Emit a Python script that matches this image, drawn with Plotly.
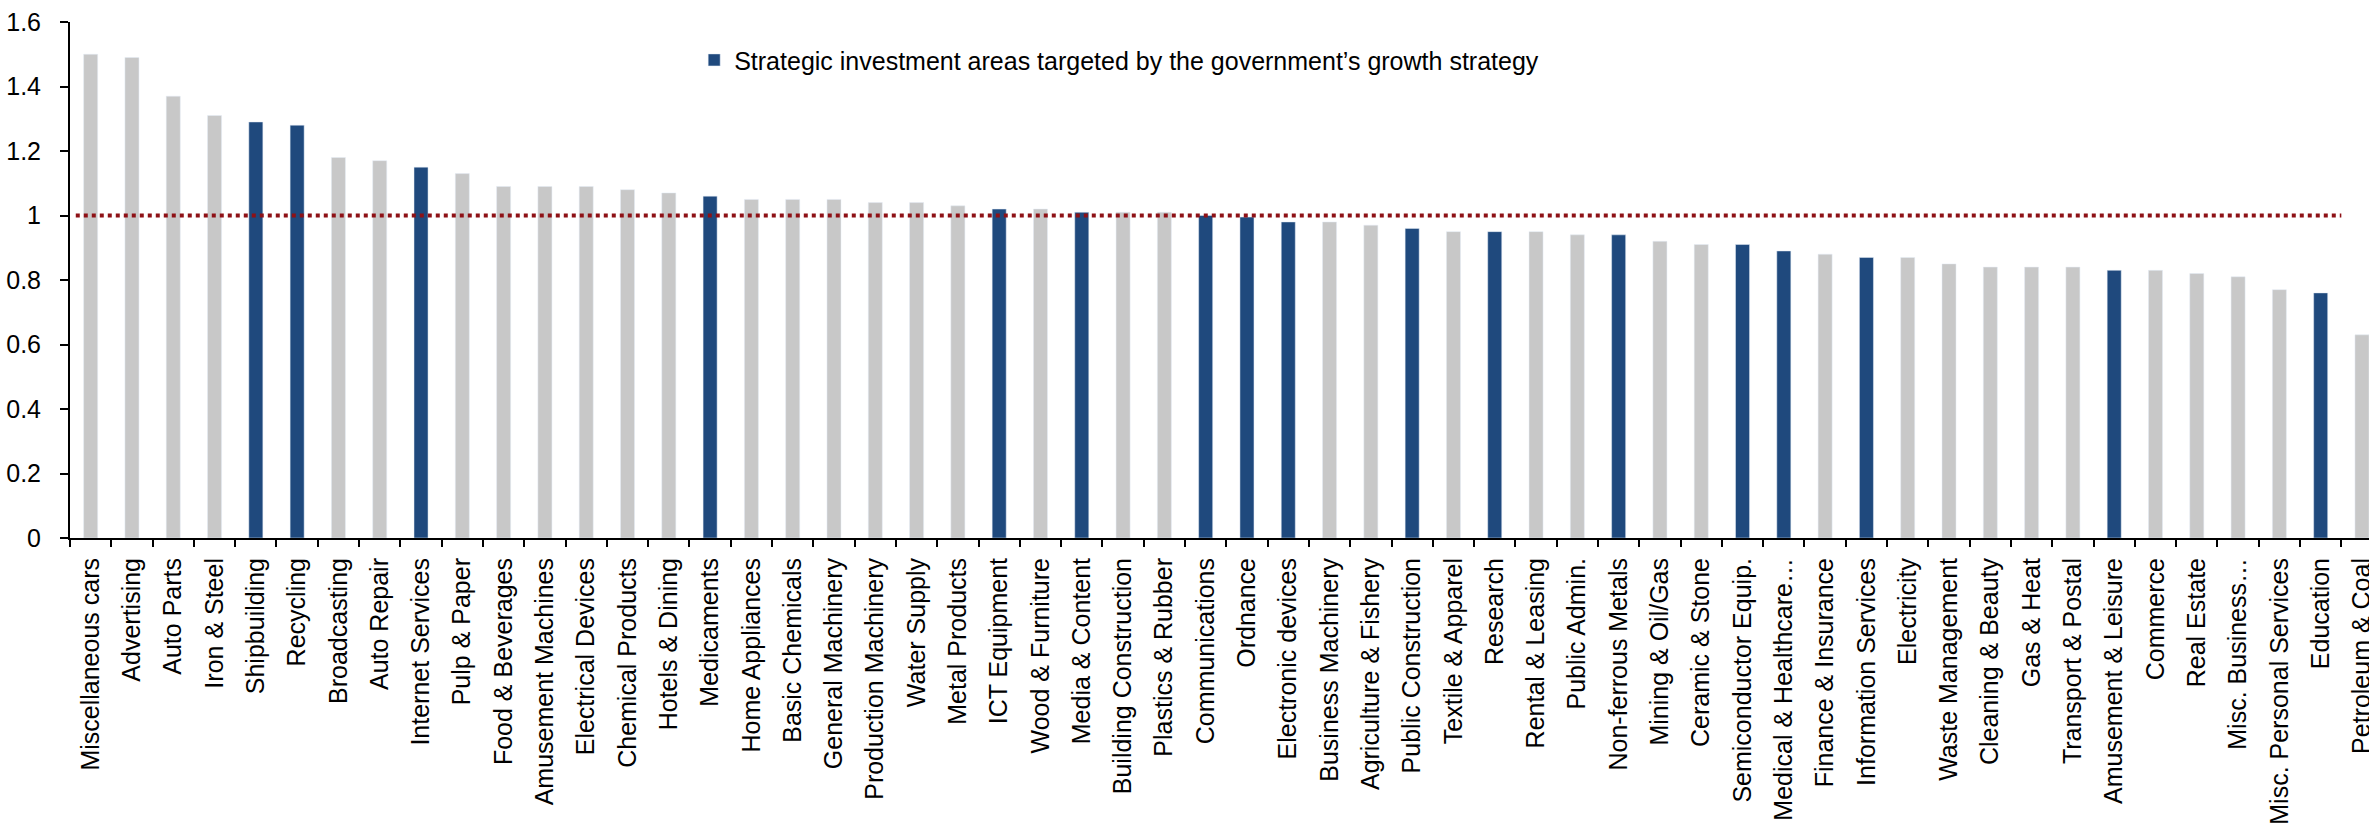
import plotly.graph_objects as go

# industries, sorted by ratio (left to right)
categories = [
    "Miscellaneous cars", "Advertising", "Auto Parts", "Iron & Steel", "Shipbuilding",
    "Recycling", "Broadcasting", "Auto Repair", "Internet Services", "Pulp & Paper",
    "Food & Beverages", "Amusement Machines", "Electrical Devices", "Chemical Products",
    "Hotels & Dining", "Medicaments", "Home Appliances", "Basic Chemicals",
    "General Machinery", "Production Machinery", "Water Supply", "Metal Products",
    "ICT Equipment", "Wood & Furniture", "Media & Content", "Building Construction",
    "Plastics & Rubber", "Communications", "Ordnance", "Electronic devices",
    "Business Machinery", "Agriculture & Fishery", "Public Construction",
    "Textile & Apparel", "Research", "Rental & Leasing", "Public Admin.",
    "Non-ferrous Metals", "Mining & Oil/Gas", "Ceramic & Stone", "Semiconductor Equip.",
    "Medical & Healthcare…", "Finance & Insurance", "Information Services",
    "Electricity", "Waste Management", "Cleaning & Beauty", "Gas & Heat",
    "Transport & Postal", "Amusement & Leisure", "Commerce", "Real Estate",
    "Misc. Business…", "Misc. Personal Services", "Education", "Petroleum & Coal",
]

values = [
    1.50, 1.49, 1.37, 1.31, 1.29, 1.28, 1.18, 1.17, 1.15, 1.13,
    1.09, 1.09, 1.09, 1.08, 1.07, 1.06, 1.05, 1.05, 1.05, 1.04,
    1.04, 1.03, 1.02, 1.02, 1.01, 1.01, 1.01, 1.00, 0.995, 0.98,
    0.98, 0.97, 0.96, 0.95, 0.95, 0.95, 0.94, 0.94, 0.92, 0.91,
    0.91, 0.89, 0.88, 0.87, 0.87, 0.85, 0.84, 0.84, 0.84, 0.83,
    0.83, 0.82, 0.81, 0.77, 0.76, 0.63,
]

# 1 = strategic investment area targeted by the growth strategy
strategic = [
    0, 0, 0, 0, 1, 1, 0, 0, 1, 0,
    0, 0, 0, 0, 0, 1, 0, 0, 0, 0,
    0, 0, 1, 0, 1, 0, 0, 1, 1, 1,
    0, 0, 1, 0, 1, 0, 0, 1, 0, 0,
    1, 1, 0, 1, 0, 0, 0, 0, 0, 1,
    0, 0, 0, 0, 1, 0,
]

reference_level = 1.0
legend_name = "Strategic investment areas targeted by the government\u2019s growth strategy"

GRAY = "#C8C8C8"
BLUE = "#1F497D"
RED = "#8E1116"
FONT = "Arial, Liberation Sans, sans-serif"

other_vals = [v if s == 0 else None for v, s in zip(values, strategic)]
strat_vals = [v if s == 1 else None for v, s in zip(values, strategic)]

fig = go.Figure()
fig.add_trace(go.Bar(x=categories, y=other_vals, marker_color=GRAY,
                     showlegend=False, name="Other"))
fig.add_trace(go.Bar(x=categories, y=strat_vals, marker_color=BLUE,
                     name=legend_name))

# dotted reference line at 1
fig.add_shape(type="line", xref="x", yref="y",
              x0=-0.36, x1=54.5, y0=reference_level, y1=reference_level,
              line=dict(color=RED, width=4, dash="4px,4px"))

fig.update_layout(
    width=2369, height=839,
    margin=dict(l=70, r=0, t=22, b=301, pad=0),
    plot_bgcolor="white", paper_bgcolor="white",
    barmode="overlay", bargap=0.66,
    font=dict(family=FONT, size=25, color="black"),
    legend=dict(x=0.2715, y=0.926, xanchor="left", yanchor="middle",
                bgcolor="rgba(0,0,0,0)", font=dict(size=25)),
)
fig.update_xaxes(
    type="category", range=[-0.5, 55.17], automargin=False,
    showline=True, linecolor="black", linewidth=2,
    ticks="outside", ticklen=7, tickwidth=2, tickcolor="black",
    tickson="boundaries", tickangle=-90, ticklabelstandoff=8,
    showgrid=False,
)
fig.update_yaxes(
    range=[0, 1.6], dtick=0.2, automargin=False,
    showline=True, linecolor="black", linewidth=2,
    ticks="outside", ticklen=8, tickwidth=2, tickcolor="black",
    ticklabelstandoff=14,
    showgrid=False, zeroline=False,
)

# drop the default page margin so the figure fills the window
fig.write_html("out.html", config={"displayModeBar": False},
               post_script="document.body.style.margin='0';")
